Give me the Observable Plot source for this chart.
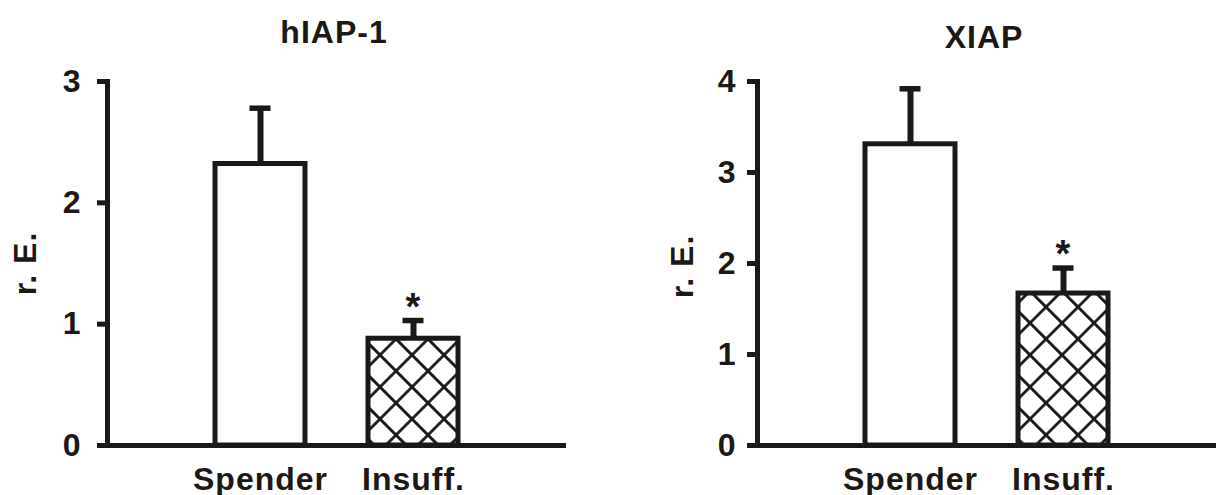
<!DOCTYPE html>
<html>
<head>
<meta charset="utf-8">
<script src="https://cdn.jsdelivr.net/npm/d3@7"></script>
<script src="https://cdn.jsdelivr.net/npm/@observablehq/plot@0.6"></script>
<style>
html, body { margin: 0; padding: 0; background: #fff; }
#wrap { display: flex; width: 1216px; height: 495px; overflow: hidden; }
#wrap svg { display: block; flex: none; }
</style>
</head>
<body>
<div id="wrap"></div>
<script>
// ---- data ----
const categories = ["Spender", "Insuff."];
const hiapMean = [2.32, 0.88];
const hiapSem = [0.46, 0.15];
const xiapMean = [3.31, 1.67];
const xiapSem = [0.61, 0.28];
const significant = [false, true];
const hiapTicks = [0, 1, 2, 3];
const xiapTicks = [0, 1, 2, 3, 4];
const titles = ["hIAP-1", "XIAP"];
const yLabel = "r. E.";
const sigMark = "*";

const INK = "#1b1816";

function panel({id, title, mean, sem, ticks, width, marginRight, tickPadding, titleDy, labelDx, labelDy}) {
  const rows = categories.map((c, i) => ({cat: c, mean: mean[i], hi: mean[i] + sem[i], sig: significant[i]}));
  const svg = Plot.plot({
    width, height: 495,
    marginLeft: 107, marginRight, marginTop: 81, marginBottom: 50,
    style: {fontFamily: "'Liberation Sans', Arial, sans-serif", fontSize: "32px", fontWeight: "bold", letterSpacing: "1px", color: INK, background: "white"},
    x: {domain: categories, paddingInner: 0.409, paddingOuter: 0.695, label: null},
    y: {domain: [0, d3.max(ticks)], label: null},
    marks: [
      Plot.barY(rows.filter(d => d.cat === categories[0]), {x: "cat", y: "mean", fill: "white", stroke: INK, strokeWidth: 5}),
      Plot.barY(rows.filter(d => d.cat === categories[1]), {x: "cat", y: "mean", fill: `url(#${id})`, stroke: INK, strokeWidth: 5}),
      Plot.ruleX(rows, {x: "cat", y1: "mean", y2: "hi", stroke: INK, strokeWidth: 6}),
      Plot.tickY(rows, {x: "cat", y: "hi", stroke: INK, strokeWidth: 5.5, insetLeft: 34.5, insetRight: 34.5}),
      Plot.text(rows.filter(d => d.sig), {x: "cat", y: "hi", text: () => sigMark, lineAnchor: "bottom", textAnchor: "middle", dy: -1, fill: INK, fontSize: 38}),
      Plot.ruleY([0], {stroke: INK, strokeWidth: 5}),
      Plot.frame({anchor: "left", stroke: INK, strokeWidth: 5}),
      Plot.axisY(ticks, {tickSize: 10, tickPadding, strokeWidth: 5, stroke: INK, label: null, tickFormat: d => String(d)}),
      Plot.axisX({tickSize: 0, tickPadding: 22, label: null}),
      Plot.text([title], {frameAnchor: "top", dy: titleDy, dx: -3, lineAnchor: "bottom", textAnchor: "middle", fill: INK}),
      Plot.text([yLabel], {frameAnchor: "left", rotate: -90, dx: labelDx, dy: labelDy, lineAnchor: "bottom", textAnchor: "middle", fill: INK})
    ]
  });
  // cross-hatch pattern definition
  const defs = d3.create("svg:defs");
  const s = 32 / Math.SQRT2;
  const pat = defs.append("pattern")
    .attr("id", id)
    .attr("patternUnits", "userSpaceOnUse")
    .attr("width", s).attr("height", s)
    .attr("patternTransform", "translate(412,339) rotate(45)");
  pat.append("rect").attr("width", s).attr("height", s).attr("fill", "white");
  pat.append("path")
    .attr("d", `M0,${s / 2}H${s}M${s / 2},0V${s}`)
    .attr("stroke", INK).attr("stroke-width", 2.8).attr("fill", "none");
  svg.insertBefore(defs.node(), svg.firstChild);
  return svg;
}

const wrap = document.getElementById("wrap");
wrap.appendChild(panel({id: "hatchL", title: titles[0], mean: hiapMean, sem: hiapSem, ticks: hiapTicks,
  width: 650, marginRight: 84, tickPadding: 16, titleDy: -39, labelDx: -72, labelDy: 0}));
wrap.appendChild(panel({id: "hatchR", title: titles[1], mean: xiapMean, sem: xiapSem, ticks: xiapTicks,
  width: 566, marginRight: 0, tickPadding: 11, titleDy: -34, labelDx: -65, labelDy: 3}));
</script>
</body>
</html>
